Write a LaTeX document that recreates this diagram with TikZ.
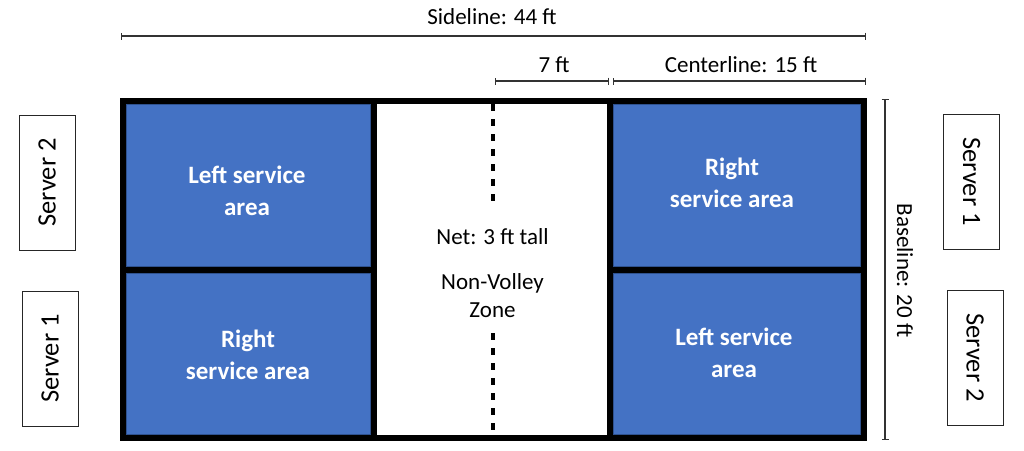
\documentclass[tikz,border=0pt]{standalone}
\usepackage{fontspec}
\setmainfont{Carlito}
\usetikzlibrary{arrows.meta}
\definecolor{svblue}{HTML}{4472C4}
\definecolor{svedge}{HTML}{2F528F}
\begin{document}
\begin{tikzpicture}[x=1pt,y=-1pt,
  area/.style={fill=svblue,draw=svedge,line width=1.4pt},
  courtline/.style={line width=6pt,draw=black},
  dim/.style={line width=1.2pt,draw=black!80,{Bar[width=7pt,line width=1.2pt]}-{Bar[width=7pt,line width=1.2pt]}},
  lbl/.style={font=\fontsize{23}{28}\selectfont,inner sep=0pt,anchor=base,align=center},
  bw/.style={font=\fontsize{25}{32}\selectfont\bfseries,text=white,inner sep=0pt,anchor=base,align=center},
  server/.style={draw=black!85,line width=1pt,fill=white,minimum width=135pt,minimum height=56pt,font=\fontsize{26.5}{30}\selectfont,inner sep=0pt},
  netline/.style={line width=4pt,draw=black,dash pattern=on 7pt off 8pt}]
\useasboundingbox (0,0) rectangle (1024,450);
% court corners
\coordinate (NW) at (123,101);
\coordinate (SE) at (864,438);
% service areas
\draw[area] (126.7,104.7) rectangle (370.3,266.3);
\draw[area] (126.7,273.7) rectangle (370.3,434.3);
\draw[area] (613.7,104.7) rectangle (860.3,266.3);
\draw[area] (613.7,273.7) rectangle (860.3,434.3);
% court lines
\coordinate (kLT) at (374,101); \coordinate (kLB) at (374,438);
\coordinate (kRT) at (610,101); \coordinate (kRB) at (610,438);
\coordinate (mL) at (123,270); \coordinate (mLi) at (374,270);
\coordinate (mRi) at (610,270); \coordinate (mR) at (864,270);
\draw[courtline] (NW) rectangle (SE);
\draw[courtline] (kLT) -- (kLB);
\draw[courtline] (kRT) -- (kRB);
\draw[courtline] (mL) -- (mLi);
\draw[courtline] (mRi) -- (mR);
% net
\coordinate (n1) at (493,104); \coordinate (n2) at (493,207);
\coordinate (n3) at (493,333); \coordinate (n4) at (493,435);
\draw[netline] (n1) -- (n2);
\draw[netline] (n3) -- (n4);
% dimension lines
\coordinate (sL) at (121,36); \coordinate (sR) at (866,36);
\coordinate (vL) at (495,81); \coordinate (vR) at (609,81);
\coordinate (cL) at (613,81); \coordinate (cR) at (866,81);
\coordinate (bT) at (885,99); \coordinate (bB) at (885,440);
\draw[dim] (sL) -- (sR);
\draw[dim] (vL) -- (vR);
\draw[dim] (cL) -- (cR);
\draw[dim] (bT) -- (bB);
% labels
\node[lbl] (side) at (492,24) {Sideline: 44 ft};
\node[lbl] (seven) at (554,72) {7 ft};
\node[lbl] (centr) at (741,72) {Centerline: 15 ft};
\node[lbl,rotate=-90,anchor=center] (basel) at (905,270.5) {Baseline: 20 ft};
\node[lbl] (nettxt) at (492.5,244) {Net: 3 ft tall};
\node[lbl] (nvz) at (492.5,317) {Non-Volley\\Zone};
\node[bw] (lsa) at (247,215) {Left service\\area};
\node[bw] (rsa) at (732,207) {Right\\service area};
\node[bw] (rsb) at (248,379) {Right\\service area};
\node[bw] (lsb) at (734,377) {Left service\\area};
% servers
\node[server,rotate=90] (s2l) at (47,182.5) {Server 2};
\node[server,rotate=90] (s1l) at (50,358.5) {Server 1};
\node[server,rotate=-90] (s1r) at (971.5,181.5) {Server 1};
\node[server,rotate=-90] (s2r) at (975,357.5) {Server 2};
\end{tikzpicture}
\end{document}
